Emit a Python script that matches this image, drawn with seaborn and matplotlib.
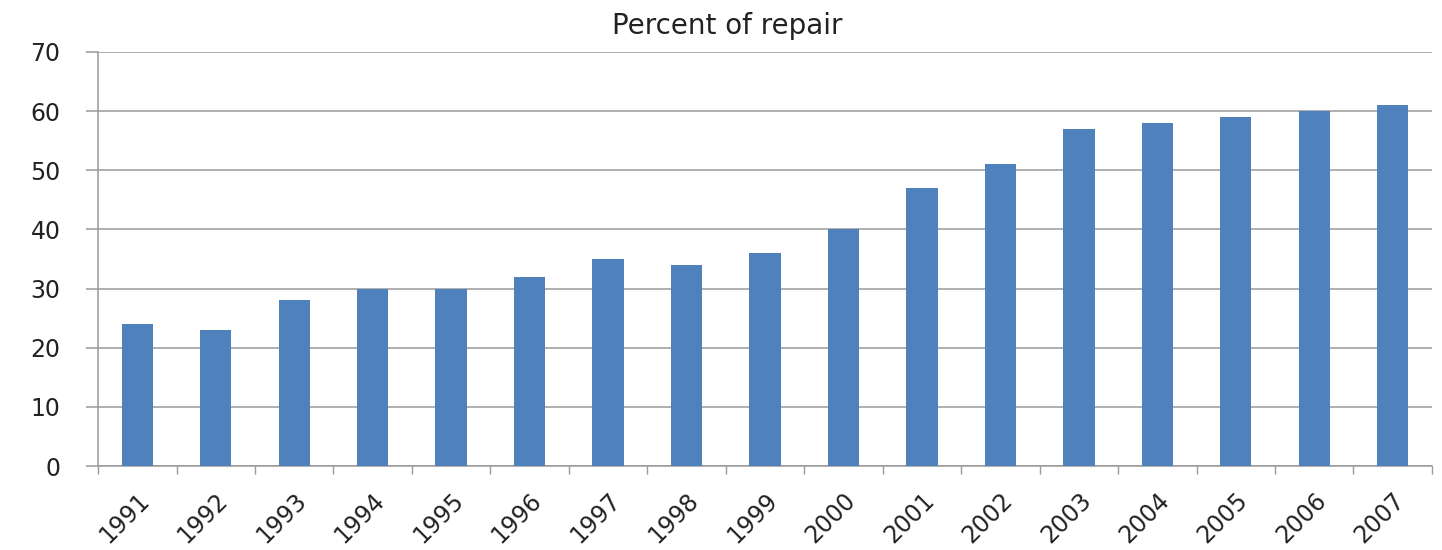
import matplotlib
matplotlib.use("Agg")
import matplotlib.pyplot as plt
import seaborn as sns
import numpy as np
import pandas as pd

years = ["1991", "1992", "1993", "1994", "1995", "1996", "1997", "1998", "1999",
         "2000", "2001", "2002", "2003", "2004", "2005", "2006", "2007"]
percent = [24, 23, 28, 30, 30, 32, 35, 34, 36, 40, 47, 51, 57, 58, 59, 60, 61]
title = "Percent of repair"
yticks = [0, 10, 20, 30, 40, 50, 60, 70]

df = pd.DataFrame({"year": years, "percent": percent})

sns.set_theme(style="white")
plt.rcParams['font.family'] = ['DejaVu Sans']

fig = plt.figure(figsize=(14.42, 5.5), dpi=100)
ax = fig.add_axes([0.068, 0.1527, 0.925, 0.7528])

sns.barplot(data=df, x="year", y="percent", color="#4F81BD", saturation=1,
            width=0.4, ax=ax, zorder=3, linewidth=0, edgecolor="none")

ax.set_ylim(0, 70)
ax.set_xlim(-0.5, len(years) - 0.5)
ax.set_yticks(yticks)
ax.set_yticklabels([str(v) for v in yticks], fontsize=17, color="#222222")
ax.yaxis.grid(True, color="#9a9a9a", linewidth=1.1, zorder=0)
ax.set_axisbelow(True)

ax.set_xticks(np.arange(len(years)))
ax.set_xticklabels(years, rotation=45, fontsize=17, color="#222222",
                   ha="right", va="top", rotation_mode="anchor")
ax.tick_params(axis="x", which="major", length=0, pad=16)
ax.set_xticks(np.arange(-0.5, len(years), 1.0), minor=True)
ax.tick_params(axis="x", which="minor", length=6, width=1, color="#9a9a9a",
               direction="out", bottom=True)
ax.tick_params(axis="y", length=9, width=1.1, color="#9a9a9a",
               direction="out", left=True, pad=18)

ax.set_xlabel("")
ax.set_ylabel("")
for s in ["top", "right"]:
    ax.spines[s].set_visible(False)
for s in ["left", "bottom"]:
    ax.spines[s].set_color("#9a9a9a")
    ax.spines[s].set_linewidth(1.1)

fig.text(0.504, 0.953, title, ha="center", va="center", fontsize=20, color="#222222")

fig.savefig("out.png", dpi=100, facecolor="white")
